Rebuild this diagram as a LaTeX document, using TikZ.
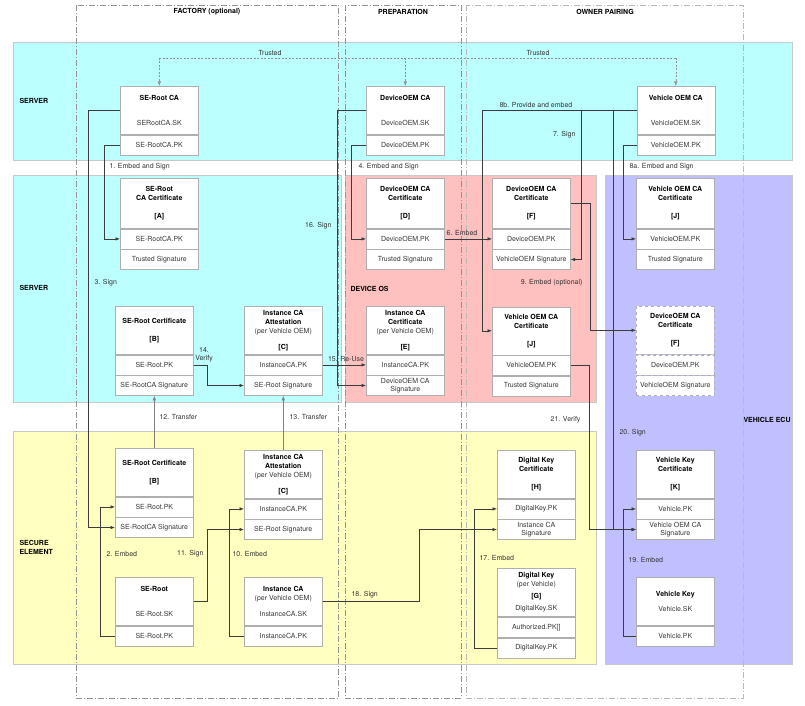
\documentclass[tikz,border=0pt]{standalone}
\usepackage{fontspec}
\setmainfont{TeX Gyre Heros}
\usetikzlibrary{arrows.meta, positioning, calc}

\definecolor{servercyan}{RGB}{188,255,255}
\definecolor{devicepink}{RGB}{255,192,192}
\definecolor{seyellow}{RGB}{255,255,192}
\definecolor{ecublue}{RGB}{192,192,255}
\definecolor{bandline}{RGB}{200,200,200}
\definecolor{boxline}{RGB}{175,175,175}
\definecolor{wirecol}{RGB}{60,60,60}

\newcommand{\boxtitle}[1]{\textcolor{black}{\textbf{#1}}}

\begin{document}
\begin{tikzpicture}[
    x=1pt, y=-1pt,
    >={Latex[length=4.5pt,width=3.5pt]},
    every node/.style={font=\fontsize{7}{9}\selectfont, text=black!78},
    band/.style={draw=bandline, line width=0.8pt},
    lane/.style={draw=gray!85, line width=0.7pt,
      dash pattern=on 6pt off 2pt on 1pt off 2pt},
    bandlabel/.style={font=\fontsize{7}{9}\selectfont\bfseries, anchor=west,
      align=left, text=black},
    lanelabel/.style={font=\fontsize{7}{9}\selectfont\bfseries, text=black},
    head/.style={draw=boxline, fill=white, minimum width=78pt,
      minimum height=48pt, align=center, anchor=north west, inner sep=1pt,
      line width=0.6pt},
    row/.style={draw=boxline, fill=white, minimum width=78pt,
      minimum height=20pt, align=center, anchor=north, inner sep=1pt,
      line width=0.6pt, font=\fontsize{7}{8.5}\selectfont},
    maybe/.style={dashed},
    wire/.style={->, draw=wirecol, line width=0.6pt},
    transfer/.style={->, draw=gray, line width=0.6pt},
    trusted/.style={draw=gray!85, line width=0.5pt,
      dash pattern=on 2pt off 1.5pt},
    wirelabel/.style={text=black!80},
  ]
  \useasboundingbox (0,0) rectangle (805,706);

  %% ---- bands ----
  \draw[band, fill=servercyan] (13,42)  rectangle (792,160);
  \draw[band, fill=servercyan] (13,175) rectangle (341,402);
  \draw[band, fill=devicepink] (345,175) rectangle (596,402);
  \draw[band, fill=seyellow]   (13,431) rectangle (596,664);
  \draw[band, fill=ecublue]    (605,175) rectangle (792,664);

  \node[bandlabel] (srvtop) at (16,101) {SERVER};
  \node[bandlabel] (srvmid) at (16,288) {SERVER};
  \node[bandlabel] (devos)  at (347,289) {DEVICE OS};
  \node[bandlabel] (ecu)    at (740,420) {VEHICLE ECU};
  \node[bandlabel] (secel)  at (16,547) {SECURE\\ELEMENT};

  %% ---- lanes ----
  \draw[lane] (76,5)  rectangle (338.5,698);
  \draw[lane] (345,5) rectangle (461,698);
  \draw[lane, draw=gray!55] (466,5) rectangle (743,698);

  \node[lanelabel] (factory) at (207,12) {FACTORY (optional)};
  \node[lanelabel] (prep)    at (403,12) {PREPARATION};
  \node[lanelabel] (owner)   at (605,12) {OWNER PAIRING};

  %% ---- server: CA keys ----
  \node[head] (rootCA) at (120,86)
    {\boxtitle{SE-Root CA}\\[16pt]SERootCA.SK};
  \node[row] (rootPK) at (rootCA.south) {SE-RootCA.PK};

  \node[head] (devCA) at (366,86)
    {\boxtitle{DeviceOEM CA}\\[16pt]DeviceOEM.SK};
  \node[row] (devPK) at (devCA.south) {DeviceOEM.PK};

  \node[head] (vehCA) at (636.5,86)
    {\boxtitle{Vehicle OEM CA}\\[16pt]VehicleOEM.SK};
  \node[row] (vehPK) at (vehCA.south) {VehicleOEM.PK};

  %% ---- server: CA certificates ----
  \node[head, minimum height=50pt] (certA) at (120,178)
    {\boxtitle{SE-Root}\\\boxtitle{CA Certificate}\\[9pt]\boxtitle{[A]}};
  \node[row] (aPK)  at (certA.south) {SE-RootCA.PK};
  \node[row] (aSig) at (aPK.south)   {Trusted Signature};

  \node[head, minimum height=50pt] (certD) at (366,178)
    {\boxtitle{DeviceOEM CA}\\\boxtitle{Certificate}\\[9pt]\boxtitle{[D]}};
  \node[row] (dPK)  at (certD.south) {DeviceOEM.PK};
  \node[row] (dSig) at (dPK.south)   {Trusted Signature};

  \node[head, minimum height=50pt] (certF) at (492,178)
    {\boxtitle{DeviceOEM CA}\\\boxtitle{Certificate}\\[9pt]\boxtitle{[F]}};
  \node[row] (fPK)  at (certF.south) {DeviceOEM.PK};
  \node[row] (fSig) at (fPK.south)   {VehicleOEM Signature};

  \node[head, minimum height=50pt] (certJ) at (636,178)
    {\boxtitle{Vehicle OEM CA}\\\boxtitle{Certificate}\\[9pt]\boxtitle{[J]}};
  \node[row] (jPK)  at (certJ.south) {VehicleOEM.PK};
  \node[row] (jSig) at (jPK.south)   {Trusted Signature};

  %% ---- server / device os: second row ----
  \node[head] (certB) at (115,306)
    {\boxtitle{SE-Root Certificate}\\[9pt]\boxtitle{[B]}};
  \node[row] (bPK)  at (certB.south) {SE-Root.PK};
  \node[row] (bSig) at (bPK.south)   {SE-RootCA Signature};

  \node[head] (attC) at (244,306)
    {\boxtitle{Instance CA}\\\boxtitle{Attestation}\\(per Vehicle OEM)\\[7pt]\boxtitle{[C]}};
  \node[row] (cPK)  at (attC.south) {InstanceCA.PK};
  \node[row] (cSig) at (cPK.south)  {SE-Root Signature};

  \node[head] (certE) at (366,306)
    {\boxtitle{Instance CA}\\\boxtitle{Certificate}\\(per Vehicle OEM)\\[7pt]\boxtitle{[E]}};
  \node[row] (ePK)  at (certE.south) {InstanceCA.PK};
  \node[row] (eSig) at (ePK.south)   {DeviceOEM CA\\Signature};

  \node[head] (certJd) at (492,306.5)
    {\boxtitle{Vehicle OEM CA}\\\boxtitle{Certificate}\\[9pt]\boxtitle{[J]}};
  \node[row] (jdPK)  at (certJd.south) {VehicleOEM.PK};
  \node[row] (jdSig) at (jdPK.south)   {Trusted Signature};

  \node[head, maybe] (certFe) at (636,306)
    {\boxtitle{DeviceOEM CA}\\\boxtitle{Certificate}\\[9pt]\boxtitle{[F]}};
  \node[row, maybe] (fePK)  at (certFe.south) {DeviceOEM.PK};
  \node[row, maybe] (feSig) at (fePK.south)   {VehicleOEM Signature};

  %% ---- secure element / ecu ----
  \node[head] (seB) at (115,448)
    {\boxtitle{SE-Root Certificate}\\[9pt]\boxtitle{[B]}};
  \node[row] (sbPK)  at (seB.south)  {SE-Root.PK};
  \node[row] (sbSig) at (sbPK.south) {SE-RootCA Signature};

  \node[head] (seC) at (244,450)
    {\boxtitle{Instance CA}\\\boxtitle{Attestation}\\(per Vehicle OEM)\\[7pt]\boxtitle{[C]}};
  \node[row] (scPK)  at (seC.south)  {InstanceCA.PK};
  \node[row] (scSig) at (scPK.south) {SE-Root Signature};

  \node[head] (certH) at (497,450)
    {\boxtitle{Digital Key}\\\boxtitle{Certificate}\\[9pt]\boxtitle{[H]}};
  \node[row] (hPK)  at (certH.south) {DigitalKey.PK};
  \node[row] (hSig) at (hPK.south)   {Instance CA\\Signature};

  \node[head] (certK) at (636,450)
    {\boxtitle{Vehicle Key}\\\boxtitle{Certificate}\\[9pt]\boxtitle{[K]}};
  \node[row] (kPK)  at (certK.south) {Vehicle.PK};
  \node[row] (kSig) at (kPK.south)   {Vehicle OEM CA\\Signature};

  \node[head] (seRoot) at (115,577)
    {\boxtitle{SE-Root}\\[16pt]SE-Root.SK};
  \node[row] (srPK) at (seRoot.south) {SE-Root.PK};

  \node[head] (instCA) at (244,577)
    {\boxtitle{Instance CA}\\(per Vehicle OEM)\\[7pt]InstanceCA.SK};
  \node[row] (icaPK) at (instCA.south) {InstanceCA.PK};

  \node[head, minimum height=48.6pt] (dkey) at (497,567.7)
    {\boxtitle{Digital Key}\\(per Vehicle)\\[3pt]\boxtitle{[G]}\\[3pt]DigitalKey.SK};
  \node[row] (gAuth) at (dkey.south)  {Authorized.PK[]};
  \node[row] (gPK)   at (gAuth.south) {DigitalKey.PK};

  \node[head] (vkey) at (636,577)
    {\boxtitle{Vehicle Key}\\[6pt]Vehicle.SK};
  \node[row] (vkPK) at (vkey.south) {Vehicle.PK};

  %% ---- trusted (dashed) ----
  \coordinate (trustbar) at (0,58);
  \draw[trusted] (trustbar -| rootCA.north) -- (trustbar -| vehCA.north);
  \draw[trusted, ->] (trustbar -| rootCA.north) -- (rootCA.north);
  \draw[trusted, ->] (trustbar -| devCA.north)  -- (devCA.north);
  \draw[trusted, ->] (trustbar -| vehCA.north)  -- (vehCA.north);
  \node[wirelabel] (trust1) at (270,53) {Trusted};
  \node[wirelabel] (trust2) at (538,53) {Trusted};

  %% ---- factory flow ----
  \draw[wire] (rootPK.west) -- ++(-16,0) |- (aPK.west);
  \draw[wire] (rootCA.west) -- ++(-32,0) |- (sbSig.west);
  \draw[wire] (srPK.west) -- ++(-14.3,0) |- (sbPK.west);
  \draw[wire] (seRoot.east) -- ++(13.7,0) |- (scSig.west);
  \draw[wire] (icaPK.west) -- ++(-15,0) |- (scPK.west);
  \draw[transfer] (seB.north) -- (bSig.south);
  \draw[transfer] (seC.north) -- (cSig.south);
  \draw[wire] (bPK.east) -- ++(13.4,0) |- (cSig.west);

  \node[wirelabel, anchor=west] (l1)  at (106,167) {1. Embed and Sign};
  \node[wirelabel, anchor=west] (l3)  at (91,283)  {3. Sign};
  \node[wirelabel, anchor=west] (l2)  at (103,554) {2. Embed};
  \node[wirelabel, anchor=east] (l11) at (207,554) {11. Sign};
  \node[wirelabel, anchor=west] (l10) at (229,554) {10. Embed};
  \node[wirelabel, anchor=west] (l12) at (156,417) {12. Transfer};
  \node[wirelabel, anchor=west] (l13) at (286,417) {13. Transfer};
  \node[wirelabel, align=center, font=\fontsize{7}{8}\selectfont]
    (l14) at (204,355) {14.\\Verify};

  %% ---- preparation / device os ----
  \draw[wire] (cPK.east) -- (ePK.west);
  \draw[wire] (devCA.west) -- ++(-29,0) |- (eSig.west);
  \draw[wire] (devPK.west) -- ++(-15,0) |- (dPK.west);
  \draw[wire] (dPK.east) -- (fPK.west);

  \node[wirelabel] (l15) at (346,359) {15. Re-Use};
  \node[wirelabel, anchor=east] (l16) at (335,226) {16. Sign};
  \node[wirelabel, anchor=west] (l4)  at (355,167) {4. Embed and Sign};
  \node[wirelabel] (l6) at (462,233) {6. Embed};

  %% ---- owner pairing / vehicle ecu ----
  \draw[wire] (vehCA.west) -- ++(-154,0) |- (certJd.west);
  \draw[wire] (vehCA.west) -- ++(-55,0) |- (fSig.east);
  \draw[wire] (vehCA.west) -- ++(-23,0) |- (kSig.west);
  \draw[wire] (vehPK.west) -- ++(-13.2,0) |- (jPK.west);
  \draw[wire] (certF.east) -- ++(19.5,0) |- (certFe.west);
  \draw[wire] (jdPK.east) -- ++(19,0) |- (kSig.west);
  \draw[wire] (gPK.west) -- ++(-23,0) |- (hPK.west);
  \draw[wire] (instCA.east) -- ++(97,0) |- (hSig.west);
  \draw[wire] (vkPK.west) -- ++(-12.5,0) |- (kPK.west);

  \node[wirelabel, anchor=west] (l8b) at (496,105) {8b. Provide and embed};
  \node[wirelabel, anchor=east] (l7)  at (579,135) {7. Sign};
  \node[wirelabel, anchor=west] (l8a) at (626,167) {8a. Embed and Sign};
  \node[wirelabel, anchor=east] (l9)  at (586,283) {9. Embed (optional)};
  \node[wirelabel, anchor=east] (l21) at (584,420) {21. Verify};
  \node[wirelabel, anchor=west] (l20) at (616,433) {20. Sign};
  \node[wirelabel, anchor=west] (l17) at (476,558) {17. Embed};
  \node[wirelabel, anchor=west] (l18) at (348,595) {18. Sign};
  \node[wirelabel, anchor=west] (l19) at (625,560) {19. Embed};

\end{tikzpicture}
\end{document}
